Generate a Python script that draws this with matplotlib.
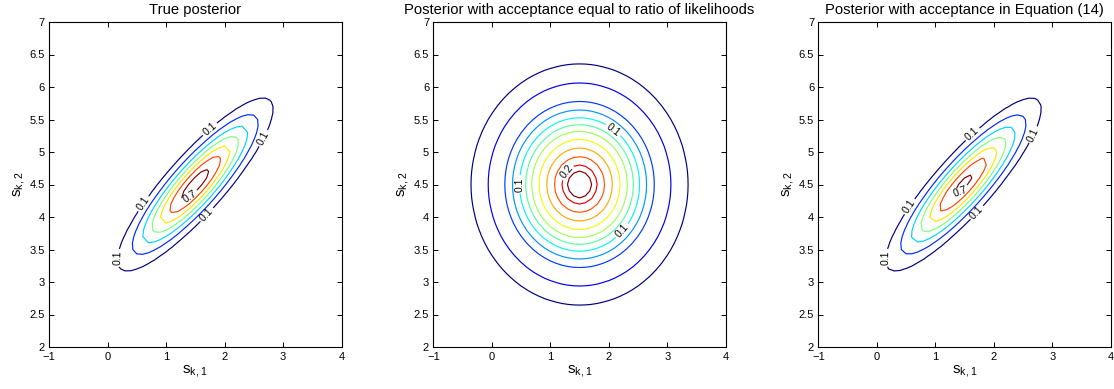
import numpy as np
import matplotlib
matplotlib.use("Agg")
import matplotlib.pyplot as plt

plt.rcParams['font.family'] = ['Liberation Sans', 'DejaVu Sans']
plt.rcParams['axes.unicode_minus'] = True

# ---- data ----
titles = ["True posterior",
          "Posterior with acceptance equal to ratio of likelihoods",
          "Posterior with acceptance in Equation (14)"]

# Gaussian-shaped posterior parameters per panel (peak height, mean, covariance)
peak_1 = 0.75
mean_1 = [1.5, 4.5]
cov_1 = [[0.44, 0.3855], [0.3855, 0.44]]
levels_1 = [0.1, 0.2, 0.3, 0.4, 0.5, 0.6, 0.7]

peak_2 = 0.2134
mean_2 = [1.5, 4.5]
cov_2 = [[0.694, 0.0], [0.0, 0.694]]
levels_2 = [0.018, 0.037, 0.066, 0.083, 0.1, 0.116, 0.132, 0.151, 0.17, 0.187, 0.2, 0.207]

peak_3 = 0.725
mean_3 = [1.48, 4.5]
cov_3 = [[0.447, 0.392], [0.392, 0.447]]
levels_3 = [0.1, 0.2, 0.3, 0.4, 0.5, 0.6, 0.7]

# labelled levels and approximate label locations
labels_1 = {0.1: [(0.62, 4.20), (1.76, 5.34), (2.67, 5.21), (1.67, 4.06), (0.16, 3.37)],
            0.7: [(1.39, 4.34)]}
labels_2 = {0.1: [(2.10, 5.37), (0.50, 4.50), (2.24, 3.78)],
            0.2: [(1.24, 4.71)]}
labels_3 = {0.1: [(1.65, 5.26), (2.69, 5.26), (0.56, 4.16), (1.72, 4.06), (0.19, 3.37)],
            0.7: [(1.45, 4.37)]}

xticks = [-1, 0, 1, 2, 3, 4]
xtick_labels = ["\u22121", "0", "1", "2", "3", "4"]
yticks = [2, 2.5, 3, 3.5, 4, 4.5, 5, 5.5, 6, 6.5, 7]
ytick_labels = ["2", "2.5", "3", "3.5", "4", "4.5", "5", "5.5", "6", "6.5", "7"]

panels = [
    (peak_1, mean_1, cov_1, levels_1, labels_1),
    (peak_2, mean_2, cov_2, levels_2, labels_2),
    (peak_3, mean_3, cov_3, levels_3, labels_3),
]

fig = plt.figure(figsize=(11.14, 3.89), dpi=100)
lefts = [49 / 1114, 433.3 / 1114, 818.3 / 1114]
w = 292.5 / 1114
b = 42 / 389
h = 325 / 389

gx = np.linspace(-1, 4, 51)
gy = np.linspace(2, 7, 51)
X, Y = np.meshgrid(gx, gy)

for i, (peak, mu, cov, levels, labels) in enumerate(panels):
    ax = fig.add_axes([lefts[i], b, w, h])
    inv = np.linalg.inv(np.array(cov))
    dx = X - mu[0]
    dy = Y - mu[1]
    d2 = inv[0, 0] * dx * dx + 2 * inv[0, 1] * dx * dy + inv[1, 1] * dy * dy
    Z = peak * np.exp(-0.5 * d2)
    cols = plt.cm.jet(np.linspace(0, 1, len(levels)))
    for lv, col in zip(levels, cols):
        cs = ax.contour(X, Y, Z, levels=[lv], colors=[col], linewidths=0.85)
        if lv in labels:
            ax.clabel(cs, levels=[lv], fmt={lv: "%g" % lv}, fontsize=7.5,
                      colors='black', manual=labels[lv], inline=True,
                      inline_spacing=2)
    ax.set_xlim(-1, 4)
    ax.set_ylim(2, 7)
    ax.set_xticks(xticks)
    ax.set_xticklabels(xtick_labels)
    ax.set_yticks(yticks)
    ax.set_yticklabels(ytick_labels)
    ax.tick_params(direction='in', top=True, right=True, length=3.5, width=0.7,
                   labelsize=8)
    ax.tick_params(axis='x', pad=3.5)
    ax.tick_params(axis='y', pad=3)
    for sp in ax.spines.values():
        sp.set_linewidth(0.8)
    ax.set_title(titles[i], fontsize=10.6, pad=6)
    ax.set_xlabel(r'$\mathregular{s_{k,1}}$', fontsize=11, labelpad=1)
    ax.set_ylabel(r'$\mathregular{s_{k,2}}$', fontsize=11, labelpad=2)

fig.savefig("out.png", dpi=100)
